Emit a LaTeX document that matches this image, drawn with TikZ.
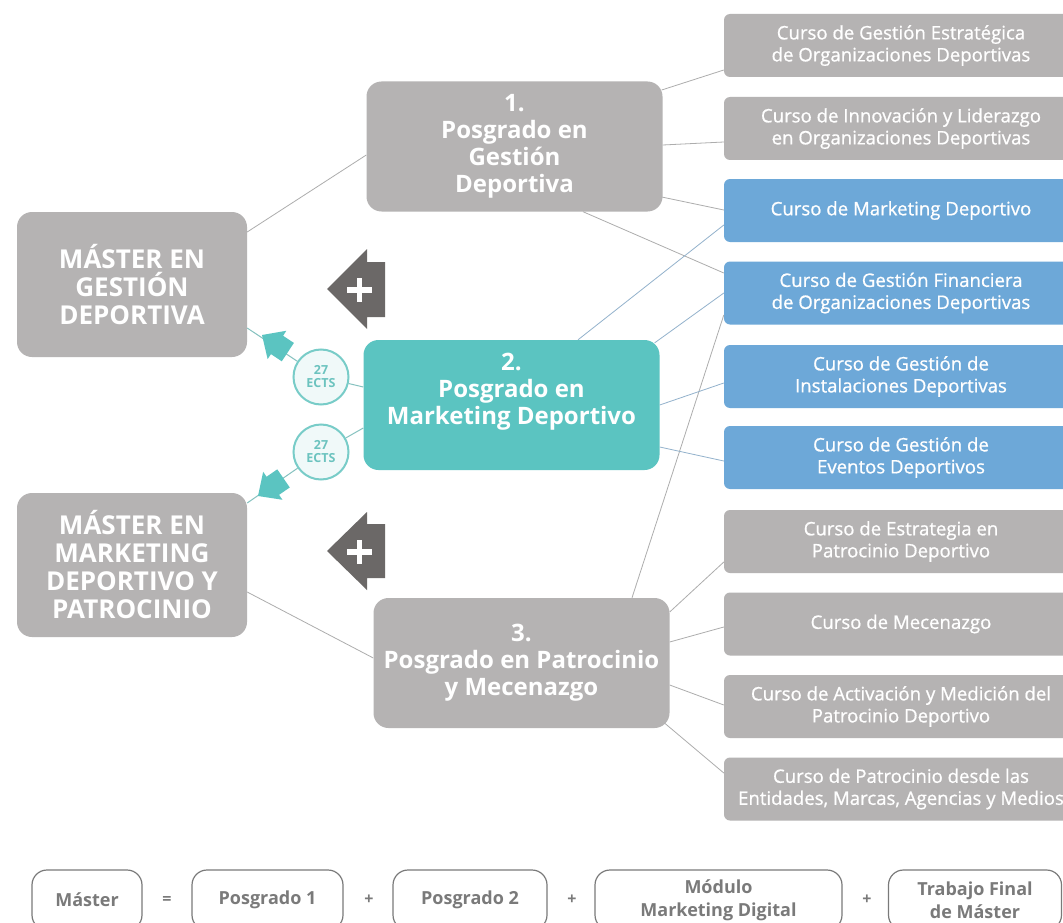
\documentclass[tikz,border=0pt]{standalone}
\usepackage{fontspec}
\setmainfont{Open Sans}
\newfontfamily\coursefont[FakeBold=0.8]{Open Sans}
\usetikzlibrary{calc}
\definecolor{boxgrey}{HTML}{B5B3B3}
\definecolor{courseblue}{HTML}{6DA8D8}
\definecolor{tealc}{HTML}{5BC4C1}
\definecolor{ectsline}{HTML}{78CCC8}
\definecolor{ectstext}{HTML}{6CC3BF}
\definecolor{ectsfill}{HTML}{F0F9F9}
\definecolor{darkarrow}{HTML}{6B6867}
\definecolor{linegrey}{HTML}{ADADAD}
\definecolor{lineblue}{HTML}{93B2CC}
\definecolor{lineteal}{HTML}{86C2C0}
\definecolor{bottomgrey}{HTML}{7A7A7A}
\begin{document}
\begin{tikzpicture}[x=1pt,y=-1pt,
  masterbox/.style={rounded corners=15pt, fill=boxgrey, text=white, align=center, inner sep=0pt,
    minimum width=230pt, minimum height=145pt, font=\bfseries\fontsize{26}{28}\selectfont},
  pgbox/.style={rounded corners=15pt, text=white, align=center, inner sep=0pt,
    minimum width=296pt, minimum height=130pt, font=\bfseries\fontsize{24}{27}\selectfont},
  coursebox/.style={rounded corners=6pt, text=white, align=center, inner sep=0pt,
    minimum width=354pt, minimum height=63pt, font=\coursefont\fontsize{18.6}{22}\selectfont},
  ects/.style={circle, draw=ectsline, line width=2pt, fill=ectsfill, text=ectstext, inner sep=0pt,
    minimum size=55pt, align=center, font=\bfseries\fontsize{12.5}{13}\selectfont},
  bottombox/.style={rounded corners=15pt, draw=bottomgrey, line width=1.2pt, fill=white,
    text=bottomgrey, align=center, inner sep=0pt, minimum height=60pt,
    font=\bfseries\fontsize{18}{23}\selectfont},
  opsym/.style={text=bottomgrey, inner sep=0pt, font=\bfseries\fontsize{16}{16}\selectfont},
  conn/.style={draw=linegrey, line width=0.8pt},
  bconn/.style={draw=lineblue, line width=0.8pt},
  tconn/.style={draw=lineteal, line width=1pt},
  tarrow/.style={fill=tealc},
  darrow/.style={fill=darkarrow},
  plussign/.style={draw=white, line width=5.5pt}
]
\useasboundingbox[fill=white] (0,0) rectangle (1063,923);

% main boxes
\node[masterbox] (mgd) at (132,284.5) {MÁSTER EN\\GESTIÓN\\DEPORTIVA};
\node[masterbox, minimum height=144pt] (mmd) at (132,565) {MÁSTER EN\\MARKETING\\DEPORTIVO Y\\PATROCINIO};
\node[pgbox, fill=boxgrey] (p1) at (514.5,146.5) {1.\\Posgrado en\\Gestión\\Deportiva};
\node[pgbox, fill=tealc] (p2) at (511.5,405) {2.\\Posgrado en\\Marketing Deportivo\\[6pt]};
\node[pgbox, fill=boxgrey] (p3) at (521.5,663) {3.\\Posgrado en Patrocinio\\y Mecenazgo};

% courses
\node[coursebox, fill=boxgrey] (c1) at (901,45.5) {Curso de Gestión Estratégica\\de Organizaciones Deportivas};
\node[coursebox, fill=boxgrey] (c2) at (901,128.5) {Curso de Innovación y Liderazgo\\en Organizaciones Deportivas};
\node[coursebox, fill=courseblue] (c3) at (901,210.5) {Curso de Marketing Deportivo};
\node[coursebox, fill=courseblue] (c4) at (901,293) {Curso de Gestión Financiera\\de Organizaciones Deportivas};
\node[coursebox, fill=courseblue] (c5) at (901,376.5) {Curso de Gestión de\\Instalaciones Deportivas};
\node[coursebox, fill=courseblue] (c6) at (901,457.5) {Curso de Gestión de\\Eventos Deportivos};
\node[coursebox, fill=boxgrey] (c7) at (901,541.5) {Curso de Estrategia en\\Patrocinio Deportivo};
\node[coursebox, fill=boxgrey] (c8) at (901,624) {Curso de Mecenazgo};
\node[coursebox, fill=boxgrey] (c9) at (901,706.5) {Curso de Activación y Medición del\\Patrocinio Deportivo};
\node[coursebox, fill=boxgrey] (c10) at (901,789) {Curso de Patrocinio desde las\\Entidades, Marcas, Agencias y Medios};

% connectors
\draw[conn] ($(mgd.east)+(0,-52.5)$) -- ($(p1.west)+(0,8.5)$);
\draw[conn] ($(mmd.east)+(0,27)$) -- ($(p3.west)+(0,-5)$);
\draw[conn] ($(p1.east)+(-1,-56.5)$) -- ($(c1.west)+(0,24.5)$);
\draw[conn] ($(p1.east)+(0,-1.5)$) -- ($(c2.west)+(0,13.5)$);
\draw[conn] ($(p1.east)+(-1,50.5)$) -- ($(c3.west)+(0,-0.5)$);
\draw[conn] ($(p1.south)+(68.5,0)$) -- ($(c4.west)+(0,-20)$);
\draw[bconn] ($(p2.north)+(66.5,0)$) -- ($(c3.west)+(0,14.5)$);
\draw[bconn] ($(p2.north east)+(-5,3)$) -- (c4.west);
\draw[conn] ($(p3.north)+(110.5,0)$) -- ($(c4.west)+(0,22)$);
\draw[bconn] (p2.east) -- ($(c5.west)+(0,6.5)$);
\draw[bconn] ($(p2.east)+(0,42)$) -- ($(c6.west)+(0,3.5)$);
\draw[conn] ($(p3.east)+(0,-51)$) -- ($(c7.west)+(0,20.5)$);
\draw[conn] ($(p3.east)+(0,-21)$) -- ($(c8.west)+(0,3)$);
\draw[conn] ($(p3.east)+(0,22)$) -- ($(c9.west)+(0,-1.5)$);
\draw[conn] ($(p3.south east)+(-5,-5)$) -- ($(c10.west)+(0,-16)$);

% ECTS circles and teal connectors
\node[ects] (e1) at (321,377) {27\\ECTS};
\node[ects] (e2) at (321,452) {27\\ECTS};
\draw[tconn] ($(p2.west)+(0,-18)$) -- (e1);
\draw[tconn] (e1) -- ($(mgd.east)+(0,43.5)$);
\draw[tconn] ($(p2.west)+(0,23)$) -- (e2);
\draw[tconn] (e2) -- ($(mmd.east)+(0,-62)$);
\fill[tarrow, shift={(262,335)}, rotate=146.5] (0,0) -- (-18,17) -- (-18,11) -- (-31,11) -- (-31,-11) -- (-18,-11) -- (-18,-17) -- cycle;
\fill[tarrow, shift={(258,496)}, rotate=214.6] (0,0) -- (-18,17) -- (-18,11) -- (-31,11) -- (-31,-11) -- (-18,-11) -- (-18,-17) -- cycle;

% dark plus arrows
\fill[darrow] (327,289) -- (367,249) -- (367,262) -- (385,262) -- (385,317) -- (367,317) -- (367,329) -- cycle;
\draw[plussign] (347,290) -- (372,290) (359.5,278) -- (359.5,302);
\fill[darrow] (327,551) -- (367,512) -- (367,524) -- (385,524) -- (385,578) -- (367,578) -- (367,590) -- cycle;
\draw[plussign] (347,552) -- (372,552) (359.5,540) -- (359.5,564);

% bottom equation
\node[bottombox, minimum width=110pt] (bm) at (87,900) {Máster};
\node[opsym] (eq) at (167,900) {=};
\node[bottombox, minimum width=151pt] (bp1) at (267.5,900) {Posgrado 1};
\node[opsym] (pl1) at (369,900) {+};
\node[bottombox, minimum width=154pt] (bp2) at (470,900) {Posgrado 2};
\node[opsym] (pl2) at (572,900) {+};
\node[bottombox, minimum width=247pt] (bmod) at (718.5,900) {Módulo\\Marketing Digital};
\node[opsym] (pl3) at (867,900) {+};
\node[bottombox, minimum width=173pt] (btfm) at (975,900) {Trabajo Final\\de Máster};
\end{tikzpicture}
\end{document}
